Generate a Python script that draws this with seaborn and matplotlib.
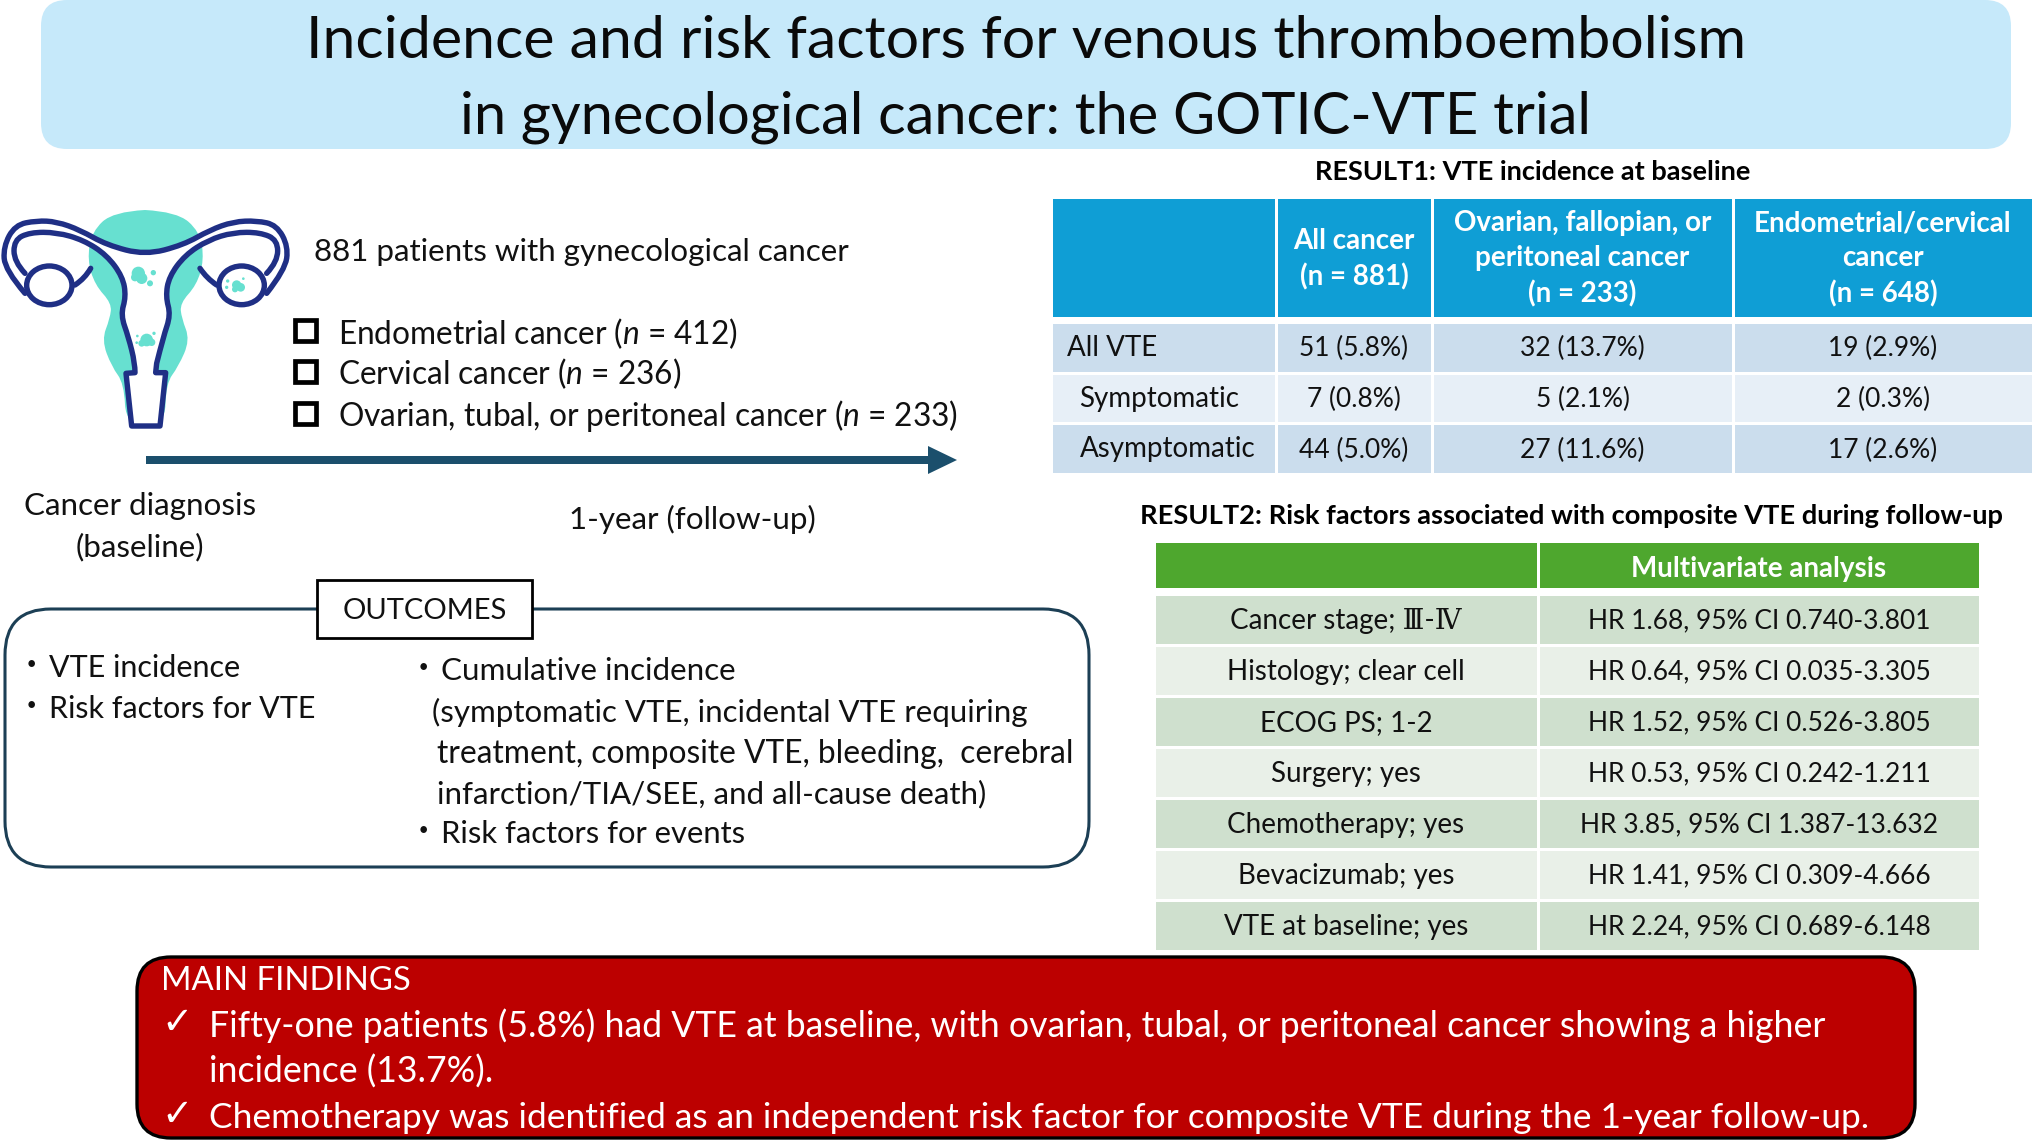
#!/usr/bin/env python3
""" Graphical abstract of the GOTIC-VTE trial, tables drawn as seaborn heatmaps """

import numpy as np
import matplotlib
matplotlib.use('Agg')
import matplotlib.pyplot as plt
from matplotlib.colors import ListedColormap
from matplotlib.patches import FancyBboxPatch, PathPatch, Circle, Ellipse, Rectangle, Polygon
from matplotlib.path import Path
import seaborn as sns

W, H = 2032, 1140

TITLE = ['Incidence and risk factors for venous thromboembolism',
         'in gynecological cancer: the GOTIC-VTE trial']

COHORT = '881 patients with gynecological cancer'
CANCER_TYPES = ['Endometrial cancer ($\\mathit{n}$ = 412)',
                'Cervical cancer ($\\mathit{n}$ = 236)',
                'Ovarian, tubal, or peritoneal cancer ($\\mathit{n}$ = 233)']

RESULT1_TITLE = 'RESULT1: VTE incidence at baseline'
RESULT1_HEADER = ['', 'All cancer\n(n = 881)', 'Ovarian, fallopian, or\nperitoneal cancer\n(n = 233)',
                  'Endometrial/cervical\ncancer\n(n = 648)']
RESULT1_ROWS = ['All VTE', 'Symptomatic', 'Asymptomatic']
RESULT1_ALL = ['51 (5.8%)', '7 (0.8%)', '44 (5.0%)']
RESULT1_OVARIAN = ['32 (13.7%)', '5 (2.1%)', '27 (11.6%)']
RESULT1_ENDO = ['19 (2.9%)', '2 (0.3%)', '17 (2.6%)']

RESULT2_TITLE = 'RESULT2: Risk factors associated with composite VTE during follow-up'
RESULT2_HEADER = ['', 'Multivariate analysis']
RESULT2_FACTORS = ['Cancer stage; Ⅲ-Ⅳ', 'Histology; clear cell', 'ECOG PS; 1-2', 'Surgery; yes',
                   'Chemotherapy; yes', 'Bevacizumab; yes', 'VTE at baseline; yes']
RESULT2_HR = ['HR 1.68, 95% CI 0.740-3.801', 'HR 0.64, 95% CI 0.035-3.305',
              'HR 1.52, 95% CI 0.526-3.805', 'HR 0.53, 95% CI 0.242-1.211',
              'HR 3.85, 95% CI 1.387-13.632', 'HR 1.41, 95% CI 0.309-4.666',
              'HR 2.24, 95% CI 0.689-6.148']

OUTCOMES_LEFT = ['VTE incidence', 'Risk factors for VTE']
OUTCOMES_RIGHT = ['Cumulative incidence',
                  '(symptomatic VTE, incidental VTE requiring',
                  'treatment, composite VTE, bleeding,  cerebral',
                  'infarction/TIA/SEE, and all-cause death)',
                  'Risk factors for events']

FINDINGS = ['Fifty-one patients (5.8%) had VTE at baseline, with ovarian, tubal, or peritoneal cancer showing a higher',
            'incidence (13.7%).',
            'Chemotherapy was identified as an independent risk factor for composite VTE during the 1-year follow-up.']

NAVY = '#1F2F85'
TEAL = '#67E0D0'
INK = '#111111'
BODY = 22.6

sns.set_theme(style='white')
plt.rcParams['font.family'] = ['Lato', 'DejaVu Serif', 'Noto Sans CJK JP', 'DejaVu Sans']
plt.rcParams['mathtext.fontset'] = 'custom'
plt.rcParams['mathtext.it'] = 'Lato:italic'
plt.rcParams['mathtext.rm'] = 'Lato'


def label(ax, x, y, s, size=BODY, ha='left', color=INK, **kw):
  ax.text(x, y, s, fontsize=size, ha=ha, va='center', color=color, **kw)


def cell_block(fig, x0, y0, x1, y1, colors, labels, size=19, color=INK, weight='normal', linespacing=1.43, gap=2.0,
               shift=1.5):
  """ One table column as a one column heatmap, placed at pixel coordinates """
  ax = fig.add_axes([x0 / W, 1 - y1 / H, (x1 - x0) / W, (y1 - y0) / H])
  shade = np.arange(len(labels)).reshape(-1, 1)
  annot = np.array(labels, dtype=object).reshape(-1, 1)
  sns.heatmap(shade, ax=ax, cmap=ListedColormap(colors), annot=annot, fmt='', cbar=False,
              vmin=-0.5, vmax=len(colors) - 0.5, linewidths=gap, linecolor='white',
              xticklabels=False, yticklabels=False,
              annot_kws={'fontsize': size, 'color': color, 'fontweight': weight, 'linespacing': linespacing})
  # Nudge the cell text down a little, the row units differ per block
  for t in ax.texts:
    tx, ty = t.get_position()
    t.set_position((tx, ty + shift * len(labels) / (y1 - y0)))
  return ax


def stub_labels(ax, labels, indents):
  """ Left aligned row labels in the first column of a table """
  for i, (s, indent) in enumerate(zip(labels, indents)):
    ax.text(indent, i + 0.51, s, fontsize=20, ha='left', va='center', color=INK)


def icon_xy(pts):
  return [(x / 3, 190 + y / 3) for x, y in pts]


def curve(pts):
  """ Smooth quadratic curve through control points, icon coordinates """
  pts = icon_xy(pts)
  verts, codes = [pts[0]], [Path.LINETO]
  for i in range(1, len(pts) - 1):
    mid = pts[i + 1] if i == len(pts) - 2 else ((pts[i][0] + pts[i + 1][0]) / 2, (pts[i][1] + pts[i + 1][1]) / 2)
    verts += [pts[i], mid]
    codes += [Path.CURVE3, Path.CURVE3]
  return verts, codes


def join(*pieces, close=False):
  verts, codes = [], []
  for v, c in pieces:
    verts += v
    codes += c
  codes[0] = Path.MOVETO
  if close:
    verts.append(verts[0])
    codes.append(Path.CLOSEPOLY)
  return Path(verts, codes)


def draw_icon(ax):
  """ Uterus icon """
  teal = [(435, 60), (530, 65), (600, 125), (612, 210), (590, 285), (540, 340), (545, 385), (570, 450),
          (535, 530), (498, 580), (495, 706), (378, 706), (372, 580), (335, 530), (305, 450), (330, 385),
          (335, 340), (285, 285), (262, 210), (275, 125), (340, 65), (435, 60)]
  ax.add_patch(PathPatch(join(curve(teal), close=True), fc=TEAL, ec='none', zorder=2))

  outer = [(75, 310), (15, 240), (10, 170), (45, 105), (110, 92), (170, 95), (240, 120), (320, 165), (435, 195),
           (550, 165), (630, 120), (700, 95), (770, 92), (830, 105), (865, 170), (855, 240), (800, 310)]
  wall_l = [(75, 250), (42, 215), (42, 150), (90, 127), (170, 127), (250, 150), (320, 195), (368, 260), (378, 320),
            (362, 375), (385, 440), (405, 520), (405, 548)]
  cervix = [(378, 550), (395, 708), (480, 708), (497, 548), (467, 548)]
  wall_r = [(470, 520), (490, 440), (512, 375), (497, 320), (507, 260), (555, 195), (625, 150), (700, 127),
            (780, 127), (833, 150), (833, 215), (800, 250)]
  inner = join(curve(wall_l), (icon_xy(cervix), [Path.LINETO] * len(cervix)), curve(wall_r))
  out_v, out_c = curve(outer)
  fill = Path(out_v + list(inner.vertices[::-1]) + [out_v[0]],
              [Path.MOVETO] + out_c[1:] + [Path.LINETO] * (len(inner.vertices) + 1))
  ax.add_patch(PathPatch(fill, fc='white', ec='none', zorder=3))

  for ctr in [(148, 286), (725, 286)]:
    (cx, cy), = icon_xy([ctr])
    ax.add_patch(Ellipse((cx, cy), 136 / 3, 116 / 3, fc='white', ec=NAVY, lw=3.9, zorder=5))
  ln = dict(fc='none', ec=NAVY, lw=3.9, capstyle='round', joinstyle='round', zorder=4)
  ax.add_patch(PathPatch(join(curve(outer)), **ln))
  ax.add_patch(PathPatch(inner, **ln))
  ax.add_patch(PathPatch(join(curve([(225, 285), (255, 265), (272, 235)])), **ln))
  ax.add_patch(PathPatch(join(curve([(600, 235), (620, 265), (650, 285)])), **ln))

  spots = [(415, 250, 20), (425, 265, 17), (405, 262, 12), (460, 248, 8), (450, 280, 9),
           (440, 450, 19), (455, 457, 11), (425, 460, 10), (462, 430, 5), (412, 438, 4), (410, 458, 4),
           (710, 285, 14), (722, 292, 13), (705, 298, 9), (683, 273, 5), (680, 292, 5), (730, 266, 4)]
  for x, y, r in spots:
    (cx, cy), = icon_xy([(x, y)])
    ax.add_patch(Circle((cx, cy), r / 3, fc=TEAL, ec='none', zorder=6))


def main():
  fig = plt.figure(figsize=(W / 100, H / 100), dpi=100, facecolor='white')
  ax = fig.add_axes([0, 0, 1, 1])
  ax.set_xlim(0, W)
  ax.set_ylim(H, 0)
  ax.axis('off')

  # Title banner
  ax.add_patch(FancyBboxPatch((41, 0), 1970, 149, boxstyle='round,pad=0,rounding_size=26', fc='#C6E9FA', ec='none'))
  label(ax, 1026, 41, TITLE[0], size=42.6, ha='center', color='#0A0A0A')
  label(ax, 1026, 117, TITLE[1], size=41.6, ha='center', color='#0A0A0A')

  # Study population
  draw_icon(ax)
  label(ax, 314, 252, COHORT)
  for y0, y_text, s in zip([318, 359, 401], [334, 374, 416], CANCER_TYPES):
    ax.add_patch(Rectangle((295, y0 + 2), 21, 21, fc='white', ec='black', lw=3.4))
    label(ax, 338, y_text, s, size=22.8)
  ax.add_patch(Rectangle((146, 456), 785, 8, fc='#1B4F6C', ec='none'))
  ax.add_patch(Polygon([(928, 446), (957, 460), (928, 474)], fc='#1B4F6C', ec='none'))
  label(ax, 140, 506, 'Cancer diagnosis', ha='center')
  label(ax, 140, 547, '(baseline)', ha='center')
  label(ax, 692, 519, '1-year (follow-up)', ha='center')

  # Outcomes
  ax.add_patch(FancyBboxPatch((5, 609), 1084, 258, boxstyle='round,pad=0,rounding_size=46',
                              fc='white', ec='#1C3F55', lw=2.2))
  ax.add_patch(Rectangle((317, 580), 215, 58, fc='white', ec='black', lw=2.0, zorder=3))
  label(ax, 425, 611, 'OUTCOMES', size=21, ha='center', zorder=4)
  for y, s in zip([668, 709], OUTCOMES_LEFT):
    label(ax, 31, y - 1, '・', ha='center')
    label(ax, 49, y, s, size=22)
  right_sizes = [22.6, 22.5, 22.9, 22.5, 22.3]
  for x, y, s, size in zip([441, 432, 437, 437, 441], [671, 712, 754, 794, 834], OUTCOMES_RIGHT, right_sizes):
    if x == 441:
      label(ax, 423, y - 1, '・', ha='center')
    label(ax, x, y, s, size=size)

  # Main findings
  ax.add_patch(FancyBboxPatch((137, 957), 1778, 181, boxstyle='round,pad=0,rounding_size=34',
                              fc='#BC0000', ec='black', lw=2.4))
  label(ax, 161, 981, 'MAIN FINDINGS', size=23.7, color='white')
  for y, s, tick, size in zip([1026, 1072, 1118], FINDINGS, [True, False, True], [25.7, 25.7, 25.45]):
    if tick:
      ax.text(177, y - 2, '✓', fontsize=27, ha='center', va='center', color='white', family='DejaVu Sans',
              fontweight='bold')
    label(ax, 209, y, s, size=size, color='white')

  # Result 1 table, one heatmap per column
  label(ax, 1533, 172, RESULT1_TITLE, size=19.5, ha='center', color='black', fontweight='bold')
  blue = ['#CBDDED', '#E7EFF7', '#CBDDED']
  edges1 = [(1051, 1276), (1276, 1432), (1432, 1733), (1733, 2033)]
  bodies1 = [[''] * 3, RESULT1_ALL, RESULT1_OVARIAN, RESULT1_ENDO]
  for (x0, x1), head, body in zip(edges1, RESULT1_HEADER, bodies1):
    cell_block(fig, x0, 197, x1, 318, ['#0F9ED5'], [head], size=20, color='white', weight='bold')
    cell_block(fig, x0, 322, x1, 474, blue, body)
  # First column holds the row names
  stub_labels(fig.axes[2], RESULT1_ROWS, [0.07, 0.127, 0.127])

  # Result 2 table
  label(ax, 1572, 516, RESULT2_TITLE, size=19.6, ha='center', color='black', fontweight='bold')
  green = ['#CFE0CE', '#E9F0E8'] * 3 + ['#CFE0CE']
  edges2 = [(1154, 1538), (1538, 1980)]
  for (x0, x1), head, body, size in zip(edges2, RESULT2_HEADER, [RESULT2_FACTORS, RESULT2_HR], [20, 19]):
    cell_block(fig, x0, 541, x1, 589, ['#4EA72E'], [head], size=20, color='white', weight='bold', shift=4)
    cell_block(fig, x0, 594, x1, 951, green, body, size=size)

  fig.savefig('out.png', dpi=100, facecolor='white')


if __name__ == '__main__':
  main()
